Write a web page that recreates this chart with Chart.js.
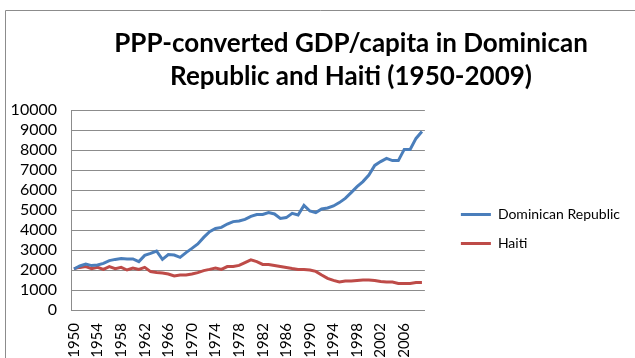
<!DOCTYPE html>
<html>
<head>
<meta charset="utf-8">
<script src="https://cdn.jsdelivr.net/npm/chart.js@4.4.1/dist/chart.umd.min.js"></script>
<style>
  html, body { margin: 0; padding: 0; background: #fff; }
  #wrap { width: 635px; height: 358px; }
</style>
</head>
<body>
<div id="wrap"><canvas id="chart" width="635" height="358"></canvas></div>
<script>
// years 1950..2009
var years = [];
for (var y = 1950; y <= 2009; y++) years.push(String(y));

var dominicanRepublic = [
  2050, 2200, 2300, 2220, 2250, 2330, 2470, 2530, 2580, 2550,
  2550, 2420, 2730, 2830, 2950, 2530, 2770, 2750, 2630, 2870,
  3080, 3300, 3630, 3920, 4080, 4130, 4300, 4420, 4450, 4530,
  4680, 4770, 4780, 4870, 4800, 4580, 4620, 4830, 4750, 5230,
  4950, 4870, 5050, 5100, 5200, 5370, 5580, 5870, 6170, 6420,
  6750, 7230, 7420, 7580, 7470, 7470, 8030, 8030, 8580, 8920
];

var haiti = [
  2070, 2130, 2170, 2070, 2130, 2030, 2170, 2070, 2130, 2000,
  2100, 2030, 2130, 1920, 1870, 1850, 1800, 1700, 1750, 1750,
  1800, 1870, 1970, 2030, 2100, 2030, 2170, 2180, 2230, 2370,
  2510, 2420, 2280, 2270, 2220, 2170, 2120, 2070, 2030, 2030,
  2000, 1930, 1750, 1580, 1480, 1400, 1450, 1450, 1480, 1500,
  1500, 1480, 1430, 1400, 1400, 1330, 1330, 1330, 1370, 1370
];

var titleLines = ['PPP-converted GDP/capita in Dominican', 'Republic and Haiti (1950-2009)'];
var FONT = 'Lato, "Liberation Sans", sans-serif';

// grey frame like the pasted Excel chart + the two-line title (Excel centres it off the plot)
var framePlugin = {
  id: 'frame',
  afterLayout: function(chart) {
    // excel leaves a wider gap between plot and legend, legend sits a bit higher
    var lg = chart.legend;
    if (lg) { lg.left += 21; lg.right += 21; lg.top -= 5; lg.bottom -= 5; }
  },
  beforeDraw: function(chart) {
    var ctx = chart.ctx;
    ctx.save();
    ctx.strokeStyle = '#8c8c8c';
    ctx.lineWidth = 1;
    ctx.beginPath();
    ctx.moveTo(5.5, 400);
    ctx.lineTo(5.5, 10.5);
    ctx.lineTo(640, 10.5);
    ctx.stroke();
    ctx.fillStyle = '#000';
    ctx.font = 'bold 26px ' + FONT;
    ctx.textAlign = 'center';
    ctx.textBaseline = 'middle';
    ctx.fillText(titleLines[0], 351, 44);
    ctx.fillText(titleLines[1], 351, 77);
    ctx.restore();
  }
};

function draw() {
  var ctx = document.getElementById('chart').getContext('2d');
  new Chart(ctx, {
    type: 'line',
    data: {
      labels: years,
      datasets: [
        { label: 'Dominican Republic', data: dominicanRepublic, borderColor: '#4A7EBB', backgroundColor: '#4A7EBB',
          borderWidth: 3, pointRadius: 0, tension: 0 },
        { label: 'Haiti', data: haiti, borderColor: '#BE4B48', backgroundColor: '#BE4B48',
          borderWidth: 3, pointRadius: 0, tension: 0 }
      ]
    },
    options: {
      responsive: false,
      animation: false,
      layout: { padding: { left: 0, right: 26, top: 110, bottom: 0 } },
      plugins: {
        title: { display: false },
        legend: {
          position: 'right',
          maxWidth: 230,
          labels: {
            color: '#000',
            font: { family: FONT, size: 14 },
            boxWidth: 30,
            boxHeight: 3,
            padding: 15,
            generateLabels: function(chart) {
              return chart.data.datasets.map(function(ds, i) {
                return { text: ds.label, fillStyle: ds.borderColor, strokeStyle: ds.borderColor,
                         lineWidth: 0, datasetIndex: i, fontColor: '#000' };
              });
            }
          }
        },
        tooltip: { enabled: false }
      },
      scales: {
        x: {
          offset: true,
          grid: { display: false, drawTicks: false },
          border: { color: '#8c8c8c' },
          afterFit: function(scale) { scale.height = 48; },
          ticks: {
            autoSkip: false,
            minRotation: 90,
            maxRotation: 90,
            padding: 13,
            color: '#000',
            font: { family: FONT, size: 15 },
            callback: function(val, idx) { return idx % 4 === 0 ? this.getLabelForValue(val) : ''; }
          }
        },
        y: {
          min: 0,
          max: 10000,
          grid: { color: '#8c8c8c', drawTicks: false },
          border: { color: '#8c8c8c' },
          afterFit: function(scale) { scale.width = 71; },
          ticks: {
            stepSize: 1000,
            autoSkip: false,
            padding: 14,
            color: '#000',
            font: { family: FONT, size: 16 },
            callback: function(v) { return String(v); }
          }
        }
      }
    },
    plugins: [framePlugin]
  });
}

// make sure the local fonts are ready before Chart.js measures text
if (document.fonts && document.fonts.load) {
  Promise.all([
    document.fonts.load('15px Lato'),
    document.fonts.load('bold 26px Lato')
  ]).then(draw, draw);
} else {
  draw();
}
</script>
</body>
</html>
